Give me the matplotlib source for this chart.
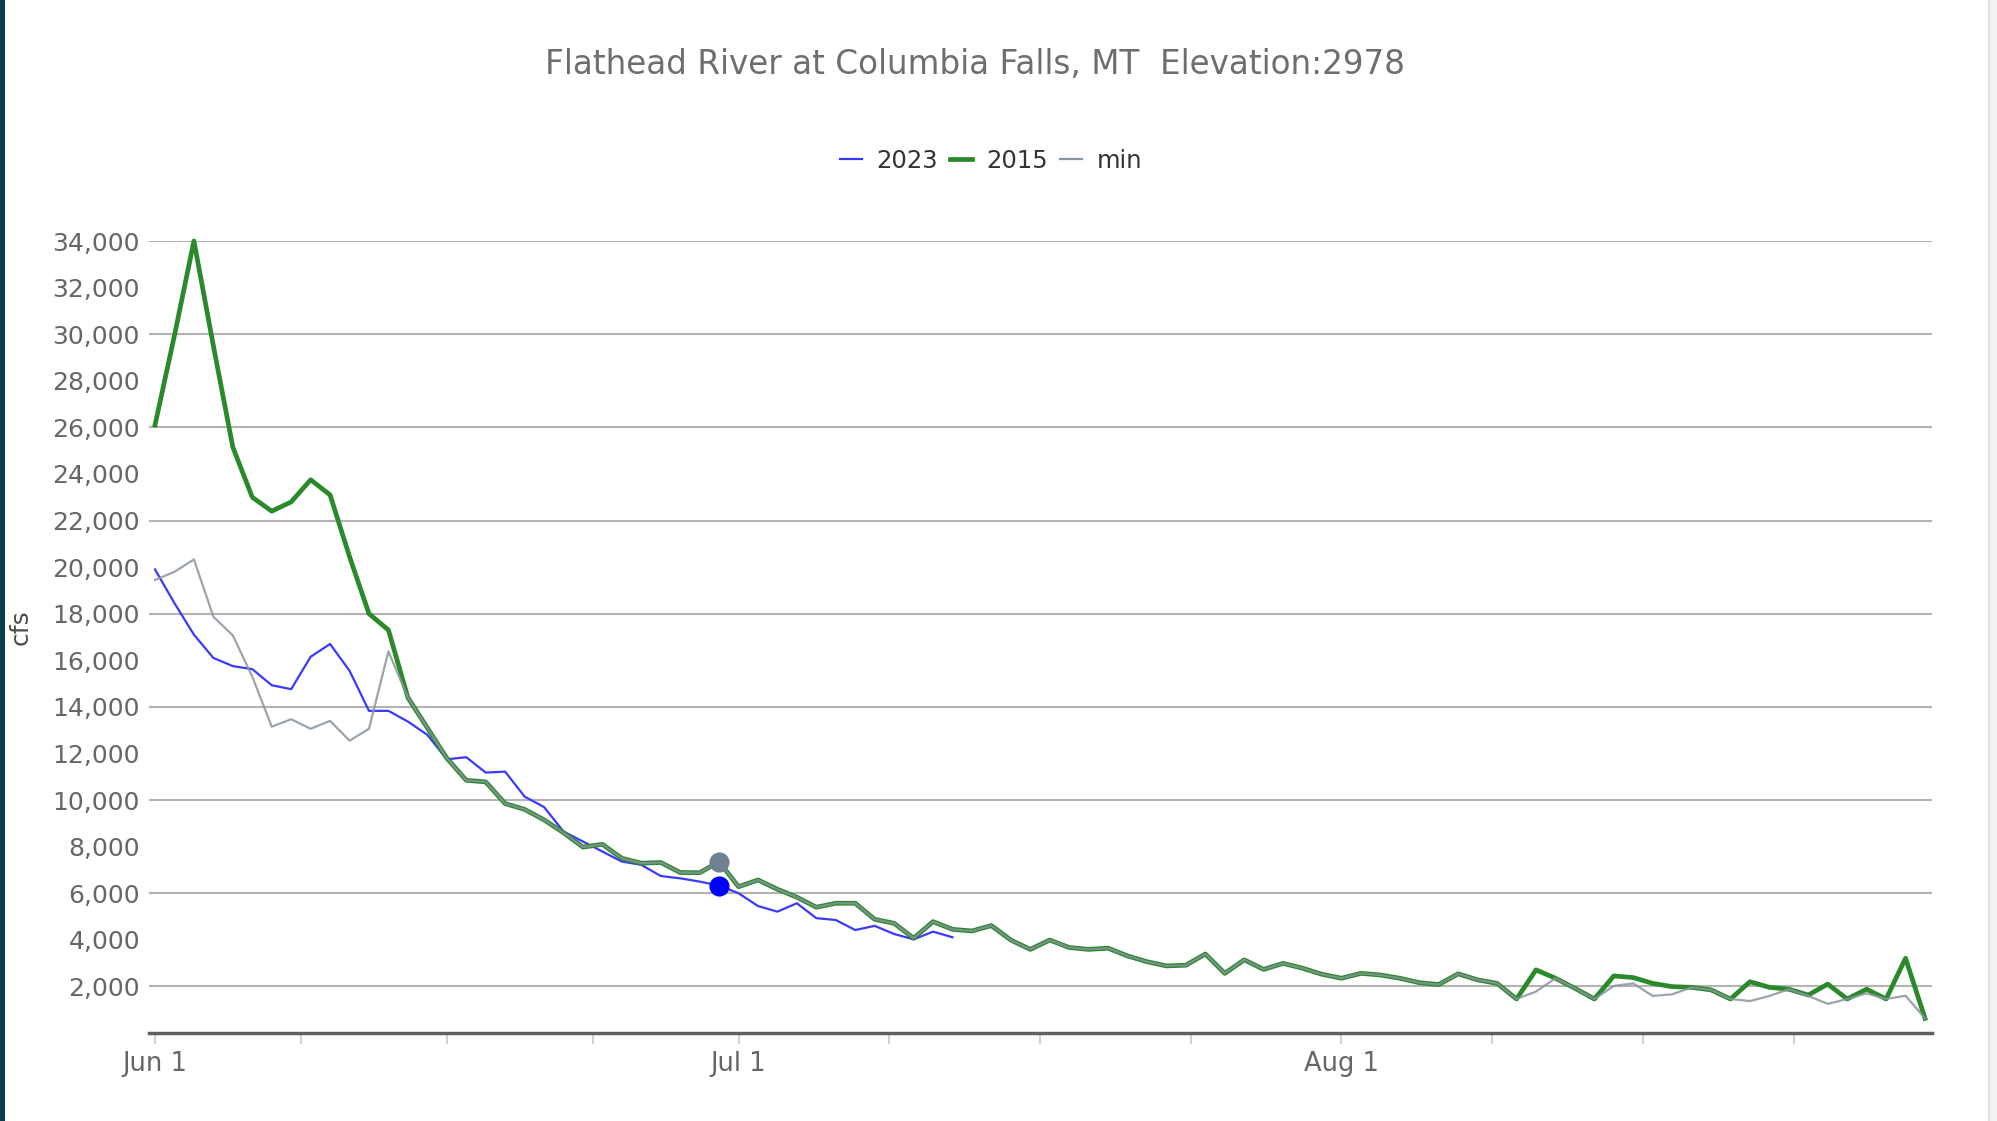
import numpy as np
import matplotlib
matplotlib.use("Agg")
import matplotlib.pyplot as plt
from matplotlib.patches import Rectangle

plt.rcParams['font.family'] = ['DejaVu Sans']

title = "Flathead River at Columbia Falls, MT  Elevation:2978"
y_label = "cfs"
month_labels = ["Jun 1", "Jul 1", "Aug 1"]
month_lengths = [30, 31, 31]
series_names = ["2023", "2015", "min"]

# daily flows (cfs) starting Jun 1
flow_2023 = [19900, 18450, 17100, 16100, 15750, 15620, 14930, 14760, 16150, 16700,
             15550, 13830, 13830, 13370, 12800, 11750, 11840, 11180, 11220, 10150,
             9700, 8650, 8220, 7790, 7360, 7220, 6740, 6640, 6500, 6330,
             6000, 5450, 5210, 5570, 4930, 4850, 4420, 4600, 4250, 4020,
             4350, 4110]
flow_2015 = [26100, 29950, 34000, 29500, 25150, 23000, 22400, 22800, 23750, 23100,
             20450, 18000, 17300, 14400, 13100, 11800, 10850, 10780, 9850, 9600,
             9150, 8600, 7980, 8100, 7500, 7290, 7320, 6890, 6880, 7350,
             6280, 6570, 6170, 5830, 5400, 5570, 5570, 4880, 4710, 4070,
             4780, 4450, 4380, 4610, 3990, 3590, 3990, 3670, 3590, 3640,
             3310, 3060, 2880, 2910, 3390, 2560, 3140, 2730, 2990, 2780,
             2520, 2350, 2560, 2490, 2350, 2160, 2080, 2540, 2280, 2130,
             1460, 2710, 2350, 1920, 1460, 2450, 2380, 2130, 1990, 1960,
             1850, 1460, 2200, 1960, 1880, 1630, 2100, 1460, 1880, 1460,
             3210, 630]
flow_min = [19450, 19800, 20330, 17870, 17070, 15300, 13150, 13470, 13060, 13400,
            12550, 13060, 16380, 14400, 13100, 11800, 10850, 10780, 9850, 9600,
            9150, 8600, 7980, 8100, 7500, 7290, 7320, 6890, 6880, 7350,
            6280, 6570, 6170, 5830, 5400, 5570, 5570, 4880, 4710, 4070,
            4780, 4450, 4380, 4610, 3990, 3590, 3990, 3670, 3590, 3640,
            3310, 3060, 2880, 2910, 3390, 2560, 3140, 2730, 2990, 2780,
            2520, 2350, 2560, 2490, 2350, 2160, 2080, 2540, 2280, 2130,
            1460, 1780, 2350, 1920, 1460, 2020, 2130, 1590, 1660, 1960,
            1850, 1460, 1370, 1590, 1880, 1590, 1250, 1460, 1700, 1460,
            1600, 630]
highlight_day = 29  # Jun 30

y_ticks = list(range(2000, 34001, 2000))
grid_values = list(range(2000, 34001, 4000))

W, H = 1997, 1121
fig = plt.figure(figsize=(W / 100, H / 100), dpi=100)
fig.patch.set_facecolor("white")

# page decorations (left dark strip, right border)
fig.add_artist(Rectangle((0, 0), 5 / W, 1, transform=fig.transFigure,
                         facecolor="#0b3c4d", edgecolor="none"))
fig.add_artist(Rectangle((1988 / W, 0), 9 / W, 1, transform=fig.transFigure,
                         facecolor="#f2f2f2", edgecolor="none"))
fig.add_artist(Rectangle((1988 / W, 0), 2 / W, 1, transform=fig.transFigure,
                         facecolor="#e0e0e0", edgecolor="none"))

left, right, top, bottom = 149, 1932, 241, 1033
ax = fig.add_axes([left / W, 1 - bottom / H, (right - left) / W, (bottom - top) / H])
ax.set_facecolor("white")

x23 = np.arange(len(flow_2023))
x15 = np.arange(len(flow_2015))
xmn = np.arange(len(flow_min))

ax.set_xlim(-0.31, 91.36)
ax.set_ylim(0, 34000)

ax.hlines(grid_values, 0, 1, transform=ax.get_yaxis_transform(),
          colors="#b3b3b3", linewidth=1.5, zorder=1)

l23, = ax.plot(x23, flow_2023, color="#3a3aff", linewidth=1.6, zorder=3,
               label=series_names[0], clip_on=False)
l15, = ax.plot(x15, flow_2015, color="#2a8a2a", linewidth=3.4, zorder=4,
               label=series_names[1], clip_on=False, solid_joinstyle="round")
lmn, = ax.plot(xmn, flow_min, color="#8a949e", linewidth=1.6, zorder=5,
               label=series_names[2], clip_on=False, alpha=0.85)

ax.plot([highlight_day], [flow_2023[highlight_day]], "o", color="#0000ff",
        markersize=13.5, zorder=6, clip_on=False)
ax.plot([highlight_day], [flow_min[highlight_day]], "o", color="#708090",
        markersize=13.5, zorder=6, clip_on=False)

# y axis
ax.set_yticks(y_ticks)
ax.set_yticklabels([f"{v:,}" for v in y_ticks])
ax.tick_params(axis="y", length=0, pad=6.5, labelsize=18, labelcolor="#666666")
ax.set_ylabel(y_label, fontsize=18, color="#4d4d4d")
ax.yaxis.set_label_coords((33 - left) / (right - left), (bottom - 627) / (bottom - top))

# x axis: month starts labelled, quarter-month ticks
starts = np.concatenate([[0], np.cumsum(month_lengths)[:-1]])
major = list(starts)
minor = []
for s, n in zip(starts, month_lengths):
    for k in (1, 2, 3):
        minor.append(s + k * n / 4)
ax.set_xticks(major)
ax.set_xticklabels(month_labels)
ax.set_xticks(minor, minor=True)
ax.tick_params(axis="x", which="both", direction="out", length=8, width=1.2,
               color="#c8c8c8", pad=5, labelsize=18.5, labelcolor="#666666")

for s in ("left", "right", "top"):
    ax.spines[s].set_visible(False)
ax.spines["bottom"].set_color("#606060")
ax.spines["bottom"].set_linewidth(2.5)

fig.text(975 / W, 1 - 64 / H, title, ha="center", va="center",
         fontsize=23.5, color="#6e6e6e")

leg = fig.legend(handles=[l23, l15, lmn], labels=series_names, loc="center",
                 bbox_to_anchor=(991 / W, 1 - 161 / H), ncol=3, frameon=False,
                 fontsize=17.5, handlelength=0.9, handletextpad=0.6,
                 columnspacing=0.5, labelcolor="#333333")
for h in leg.legend_handles:
    h.set_alpha(1)

fig.savefig("out.png", dpi=100)
